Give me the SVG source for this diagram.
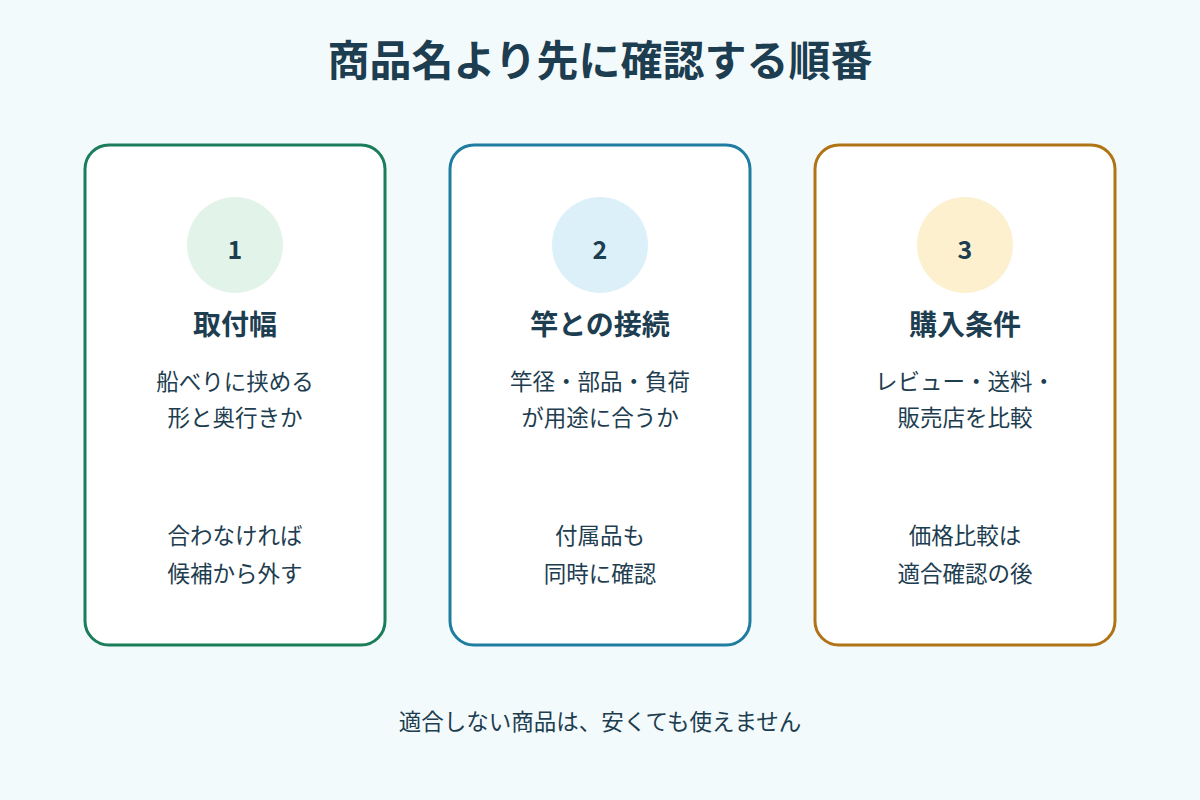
<svg xmlns="http://www.w3.org/2000/svg" width="1200" height="800" viewBox="0 0 1200 800">
<style>
text{font-family:"Noto Sans CJK JP","Noto Sans",sans-serif;fill:#1d3d50;text-anchor:middle}
.t{font-size:42px;font-weight:700}
.n{font-size:25px;font-weight:700}
.h{font-size:28px;font-weight:700}
.b{font-size:22.5px}
.card{fill:#fff;stroke-width:3}
</style>
<rect width="1200" height="800" fill="#f3fafc"/>
<text class="t" x="600" y="76">商品名より先に確認する順番</text>
<g id="card1">
<rect class="card" x="85" y="145" width="300" height="500" rx="24" stroke="#1b7d5a"/>
<circle cx="235" cy="245" r="48" fill="#e2f4e9"/>
<text class="n" x="235" y="259">1</text>
<text class="h" x="235" y="335">取付幅</text>
<text class="b" x="235" y="390">船べりに挟める</text>
<text class="b" x="235" y="426">形と奥行きか</text>
<text class="b" x="235" y="544">合わなければ</text>
<text class="b" x="235" y="582">候補から外す</text>
</g>
<g id="card2">
<rect class="card" x="450" y="145" width="300" height="500" rx="24" stroke="#1f7da2"/>
<circle cx="600" cy="245" r="48" fill="#dcf0fa"/>
<text class="n" x="600" y="259">2</text>
<text class="h" x="600" y="335">竿との接続</text>
<text class="b" x="600" y="390">竿径・部品・負荷</text>
<text class="b" x="600" y="426">が用途に合うか</text>
<text class="b" x="600" y="544">付属品も</text>
<text class="b" x="600" y="582">同時に確認</text>
</g>
<g id="card3">
<rect class="card" x="815" y="145" width="300" height="500" rx="24" stroke="#b07417"/>
<circle cx="965" cy="245" r="48" fill="#fdf0cf"/>
<text class="n" x="965" y="259">3</text>
<text class="h" x="965" y="335">購入条件</text>
<text class="b" x="965" y="390">レビュー・送料・</text>
<text class="b" x="965" y="426">販売店を比較</text>
<text class="b" x="965" y="544">価格比較は</text>
<text class="b" x="965" y="582">適合確認の後</text>
</g>
<g id="connectors"/>
<text class="b" x="600" y="730">適合しない商品は、安くても使えません</text>
</svg>
